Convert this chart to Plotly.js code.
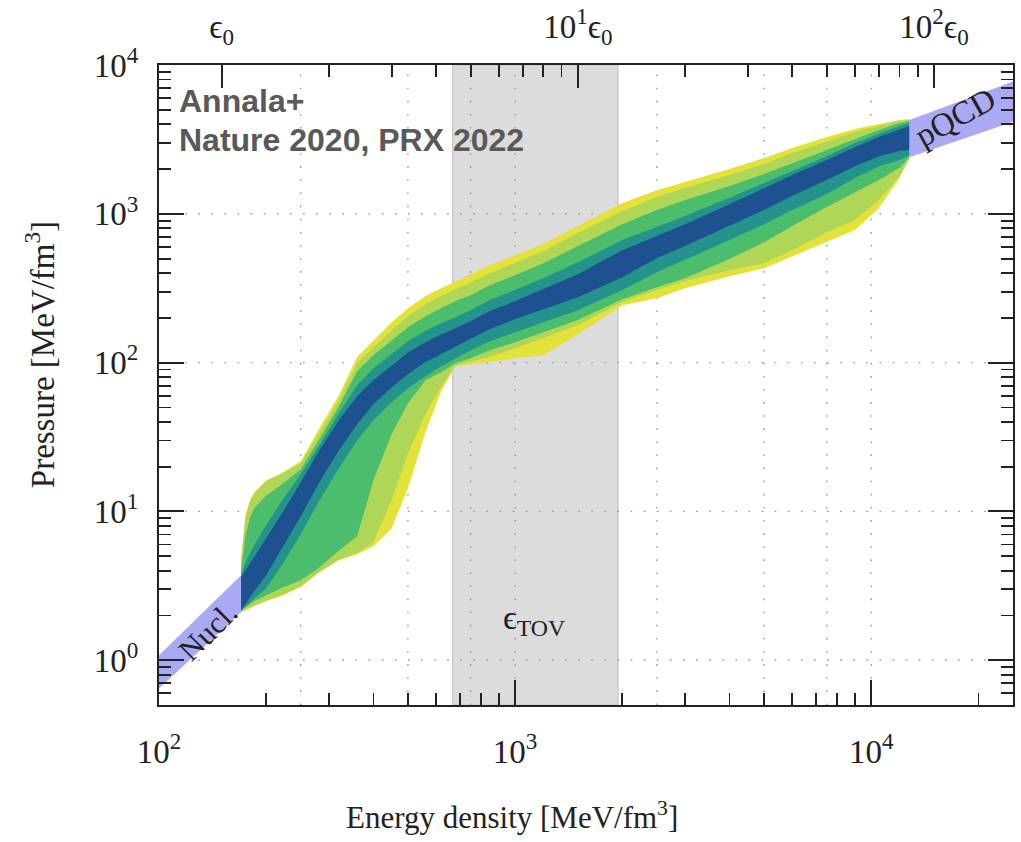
<!DOCTYPE html>
<html><head><meta charset="utf-8">
<script src="https://cdn.plot.ly/plotly-3.0.1.min.js"></script>
<style>html,body{margin:0;padding:0;background:#fff;} #chart{width:1021px;height:842px;}</style>
</head><body><div id="chart"></div>
<script>
// ---- data (MeV/fm^3) ----
const energyGrid = [170, 175, 180, 185, 200, 220, 250, 280, 320, 360, 400, 450, 500, 560, 620, 680, 750, 850, 1000, 1200, 1500, 2000, 2500, 3000, 4000, 5000, 6000, 7500, 9000, 10500, 12000, 12800];
const yellowUpper     = [4.69, 9.41, 11.9, 13.4, 16.2, 18.0, 21.7, 35.1, 60.4, 109, 141, 187, 232, 280, 316, 353, 393, 452, 528, 626, 827, 1180, 1440, 1630, 2000, 2370, 2770, 3280, 3710, 4010, 4270, 4330];
const lightGreenUpper = [4.69, 9.27, 11.7, 13.2, 15.9, 17.8, 21.1, 32.5, 55.9, 99.1, 127, 165, 205, 247, 280, 312, 347, 399, 466, 561, 742, 1040, 1300, 1490, 1820, 2160, 2560, 3080, 3540, 3890, 4200, 4270];
const greenUpper      = [3.89, 6.91, 8.98, 10.5, 12.8, 15.0, 19.2, 29.6, 50.9, 87.5, 112, 141, 173, 205, 232, 259, 284, 331, 387, 466, 607, 852, 1060, 1240, 1540, 1850, 2190, 2680, 3180, 3660, 4070, 4200];
const tealUpper       = [3.72, 4.55, 5.23, 5.92, 8.06, 11.5, 17.8, 27.0, 45.7, 70.5, 91.7, 114, 139, 163, 184, 202, 225, 263, 307, 369, 473, 666, 814, 965, 1280, 1610, 1940, 2440, 2990, 3440, 3890, 4070];
const blueUpper       = [3.61, 4.02, 4.48, 4.99, 6.59, 9.41, 15.7, 25.0, 41.0, 59.4, 76.1, 96.0, 117, 137, 155, 170, 190, 222, 259, 312, 393, 570, 708, 852, 1160, 1490, 1820, 2300, 2810, 3280, 3710, 3890];
const blueLower       = [2.16, 2.41, 2.65, 2.90, 3.72, 5.47, 9.27, 15.2, 25.8, 38.5, 52.5, 68.3, 83.6, 101, 114, 129, 144, 168, 196, 229, 275, 375, 504, 607, 827, 1060, 1320, 1690, 2090, 2440, 2640, 2680];
const tealLower       = [2.15, 2.30, 2.45, 2.60, 3.04, 4.27, 7.02, 11.5, 19.5, 30.1, 41.0, 54.2, 67.3, 81.0, 94.6, 107, 121, 139, 160, 187, 225, 307, 405, 488, 666, 852, 1060, 1360, 1740, 2090, 2300, 2480];
const greenLower      = [2.13, 2.27, 2.37, 2.49, 2.73, 3.04, 3.44, 4.14, 5.47, 6.80, 16.2, 33.0, 53.3, 76.1, 86.2, 99.1, 107, 121, 137, 160, 193, 267, 321, 369, 496, 645, 827, 1110, 1400, 1690, 2030, 2410];
const lightGreenLower = [2.11, 2.20, 2.27, 2.34, 2.52, 2.73, 3.14, 3.89, 4.76, 5.23, 6.20, 11.9, 24.6, 45.0, 69.4, 96.0, 101, 109, 125, 146, 178, 255, 307, 353, 418, 466, 570, 753, 907, 1240, 1790, 2370];
const yellowLower     = [2.10, 2.16, 2.23, 2.30, 2.49, 2.69, 3.09, 3.84, 4.69, 5.15, 5.83, 7.70, 14.3, 34.0, 64.2, 94.6, 97.6, 102, 107, 112, 155, 243, 271, 316, 381, 431, 519, 645, 777, 1090, 1740, 2370];

const nuclEnergy = [100, 170, 170, 100];
const nuclPressure = [1.08, 3.72, 2.10, 0.646];
const pqcdEnergy = [12800, 25000, 25000, 12800];
const pqcdPressure = [4270, 7760, 4160, 2400];

const tovRange = [668, 1945];          // grey epsilon_TOV band
const xRange = [100, 25000];
const yRange = [0.5, 10000];
const epsilon0 = 150;                  // MeV/fm^3
const gridEnergies = [250, 500, 750, 1000, 2500, 5000, 7500, 10000];
const gridPressures = [1, 10, 100, 1000];

const xMajor = [100, 1000, 10000];
const xMajorText = ['10<sup>2</sup>', '10<sup>3</sup>', '10<sup>4</sup>'];
const xMinor = [200, 300, 400, 500, 600, 700, 800, 900, 2000, 3000, 4000, 5000, 6000, 7000, 8000, 9000, 20000];
const yMajor = [1, 10, 100, 1000, 10000];
const yMajorText = ['10<sup>0</sup>', '10<sup>1</sup>', '10<sup>2</sup>', '10<sup>3</sup>', '10<sup>4</sup>'];
const yMinor = [0.5, 0.6, 0.7, 0.8, 0.9, 2, 3, 4, 5, 6, 7, 8, 9, 20, 30, 40, 50, 60, 70, 80, 90, 200, 300, 400, 500, 600, 700, 800, 900, 2000, 3000, 4000, 5000, 6000, 7000, 8000, 9000];
const topMajor = [1, 10, 100];
const topMajorText = ['ϵ<sub>0</sub>', '10<sup>1</sup>ϵ<sub>0</sub>', '10<sup>2</sup>ϵ<sub>0</sub>'];
const topMinor = [2, 3, 4, 5, 6, 7, 8, 9, 20, 30, 40, 50, 60, 70, 80, 90];

// ---- styles ----
const col = {yellow:'#e3e23a', lightGreen:'#b0d657', green:'#4bbd6c', teal:'#23938b', blue:'#1e5190', lav:'#aaaaf4', grey:'#dcdcdc'};
const serif = 'Liberation Serif, Times New Roman, serif';
const ink = '#222';

function band(up, lo, color) {
  return {type:'scatter', mode:'lines', x: energyGrid.concat(energyGrid.slice().reverse()),
    y: up.concat(lo.slice().reverse()), fill:'toself', fillcolor: color,
    line:{width:0, color: color}, hoverinfo:'skip', showlegend:false};
}
const gx = [], gy = [];
gridEnergies.forEach(e => { gx.push(e, e, null); gy.push(yRange[0], yRange[1], null); });
const hx = [], hy = [];
gridPressures.forEach(p => { hx.push(xRange[0], xRange[1], null); hy.push(p, p, null); });

const gridLine = {color:'#9a9a9a', width:1.4, dash:'1.6px,11.5px'};
const traces = [
  {type:'scatter', mode:'lines', x:[tovRange[0], tovRange[1], tovRange[1], tovRange[0], tovRange[0]],
   y:[yRange[0], yRange[0], yRange[1], yRange[1], yRange[0]], fill:'toself', fillcolor: col.grey,
   line:{color:'#c4c4c4', width:1.2}, hoverinfo:'skip', showlegend:false},
  {type:'scatter', mode:'lines', x: gx, y: gy, line: gridLine, hoverinfo:'skip', showlegend:false},
  {type:'scatter', mode:'lines', x: hx, y: hy, line: gridLine, hoverinfo:'skip', showlegend:false},
  band(yellowUpper, yellowLower, col.yellow),
  band(lightGreenUpper, lightGreenLower, col.lightGreen),
  band(greenUpper, greenLower, col.green),
  band(tealUpper, tealLower, col.teal),
  band(blueUpper, blueLower, col.blue),
  {type:'scatter', mode:'lines', x: nuclEnergy, y: nuclPressure, fill:'toself', fillcolor: col.lav, line:{width:0}, hoverinfo:'skip', showlegend:false},
  {type:'scatter', mode:'lines', x: pqcdEnergy, y: pqcdPressure, fill:'toself', fillcolor: col.lav, line:{width:0}, hoverinfo:'skip', showlegend:false},
  // empty carriers so that the top (ε0 units) and right axes are drawn
  {type:'scatter', mode:'lines', x:[null], y:[null], xaxis:'x2', yaxis:'y', hoverinfo:'skip', showlegend:false},
  {type:'scatter', mode:'lines', x:[null], y:[null], xaxis:'x', yaxis:'y2', hoverinfo:'skip', showlegend:false}
];

const L = Math.log10;
const axisCommon = {type:'log', showgrid:false, zeroline:false, showline:true, linecolor: ink, linewidth:2,
  ticks:'inside', tickwidth:1.8, tickcolor: ink, tickmode:'array', layer:'above traces',
  tickfont:{family: serif, size:33, color: ink}};
const minorCommon = {tickmode:'array', ticks:'inside', ticklen:12, tickwidth:1.8, tickcolor:ink, showgrid:false};

const layout = {
  width:1021, height:842, margin:{l:159, r:8, t:65, b:137},
  paper_bgcolor:'#fff', plot_bgcolor:'#fff', showlegend:false,
  xaxis: Object.assign({}, axisCommon, {range:[L(xRange[0]), L(xRange[1])], tickvals:xMajor, ticktext:xMajorText,
    ticklen:25, ticklabelstandoff:16, minor:Object.assign({tickvals:xMinor}, minorCommon)}),
  xaxis2: Object.assign({}, axisCommon, {overlaying:'x', side:'top', anchor:'y',
    range:[L(xRange[0]/epsilon0), L(xRange[1]/epsilon0)], tickvals:topMajor, ticktext:topMajorText,
    ticklen:23, ticklabelstandoff:12, minor:Object.assign({tickvals:topMinor}, minorCommon)}),
  yaxis: Object.assign({}, axisCommon, {range:[L(yRange[0]), L(yRange[1])], tickvals:yMajor, ticktext:yMajorText,
    ticklen:25, ticklabelstandoff:12, minor:Object.assign({tickvals:yMinor}, minorCommon)}),
  yaxis2: Object.assign({}, axisCommon, {overlaying:'y', side:'right', anchor:'x', showticklabels:false,
    range:[L(yRange[0]), L(yRange[1])], tickvals:yMajor, ticklen:25, minor:Object.assign({tickvals:yMinor}, minorCommon)}),
  annotations:[
    {xref:'paper', yref:'paper', x:0.4133, y:-0.172, xanchor:'center', yanchor:'middle', showarrow:false,
     text:'Energy density [MeV/fm<sup>3</sup>]', font:{family:serif, size:31, color:ink}},
    {xref:'paper', yref:'paper', x:-0.139, y:0.547, xanchor:'center', yanchor:'middle', showarrow:false, textangle:-90,
     text:'Pressure [MeV/fm<sup>3</sup>]', font:{family:serif, size:33, color:ink}},
    {xref:'paper', yref:'paper', x:0.021, y:0.943, xanchor:'left', yanchor:'middle', showarrow:false,
     text:'<b>Annala+</b>', font:{family:'Liberation Sans, Arial, sans-serif', size:32, color:'#595959'}},
    {xref:'paper', yref:'paper', x:0.021, y:0.883, xanchor:'left', yanchor:'middle', showarrow:false,
     text:'<b>Nature 2020, PRX 2022</b>', font:{family:'Liberation Sans, Arial, sans-serif', size:32, color:'#595959'}},
    {xref:'x', yref:'y', x:L(137), y:L(1.56), showarrow:false, textangle:-45, text:'Nucl.',
     font:{family:serif, size:31, color:ink}},
    {xref:'x', yref:'y', x:L(17230), y:L(4500), showarrow:false, textangle:-29, text:'pQCD',
     font:{family:serif, size:33, color:ink}},
    {xref:'x', yref:'y', x:L(1129), y:L(1.86), showarrow:false, text:'ϵ<sub>TOV</sub>',
     font:{family:serif, size:34, color:ink}}
  ]
};
Plotly.newPlot('chart', traces, layout, {displayModeBar:false, staticPlot:true});
</script></body></html>
